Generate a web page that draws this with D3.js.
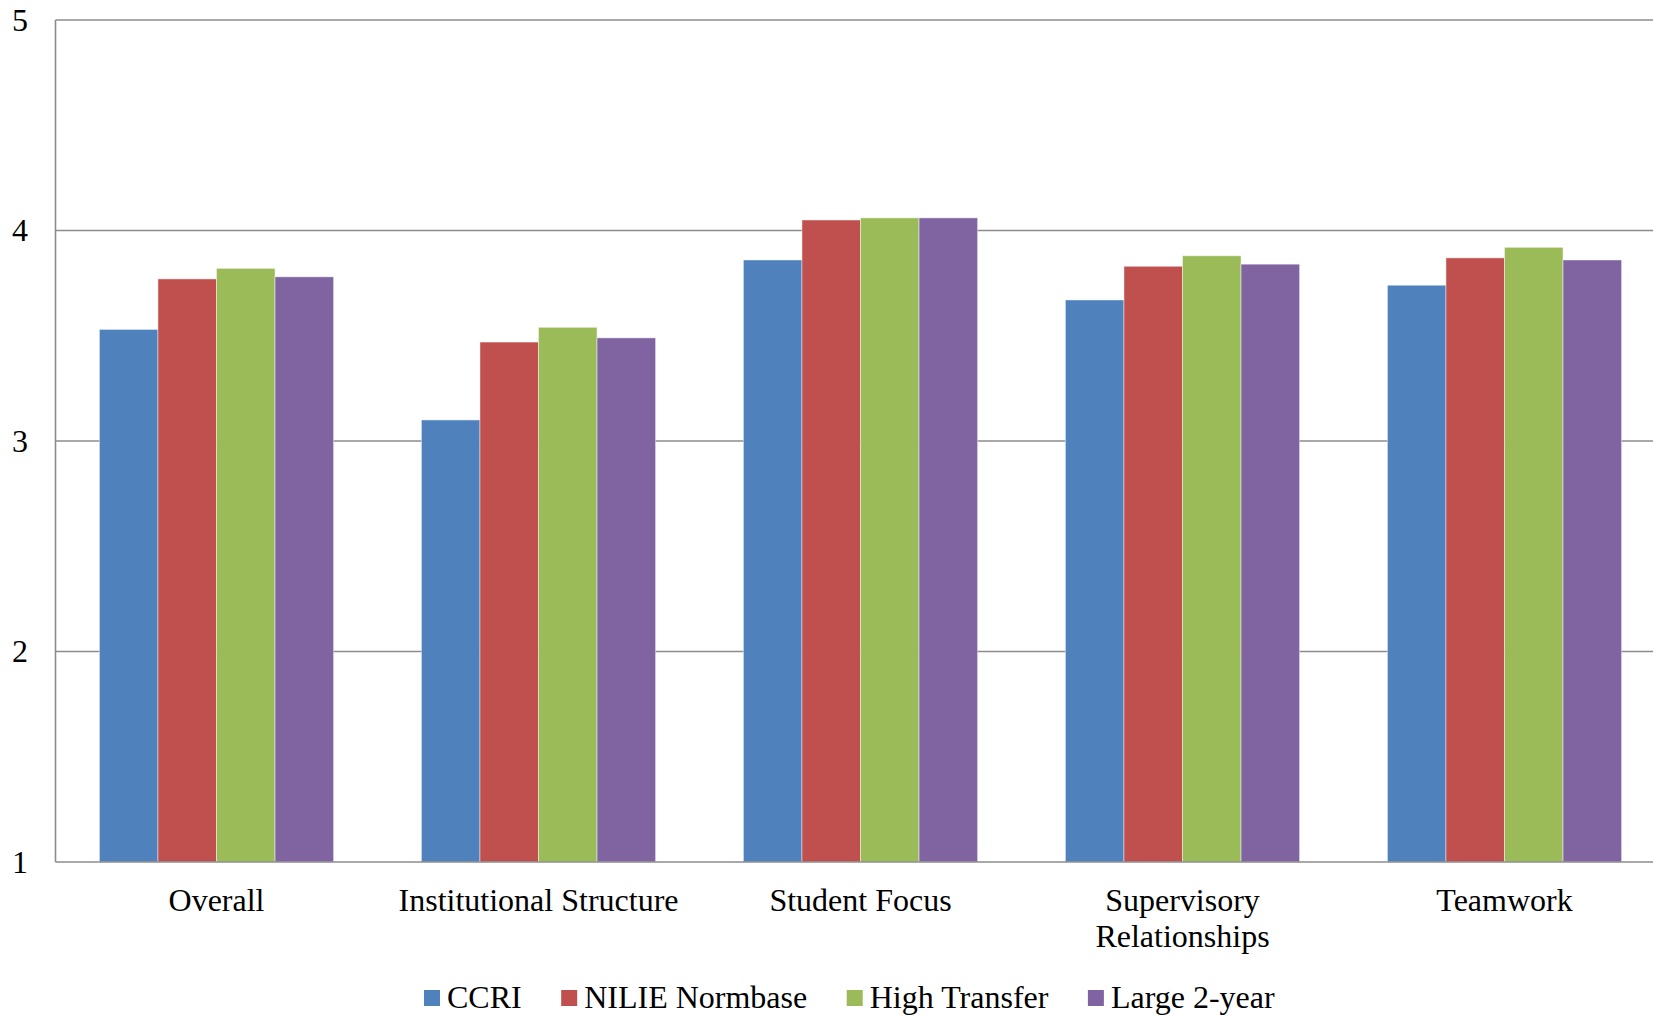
<!DOCTYPE html>
<html>
<head>
<meta charset="utf-8">
<script src="https://cdn.jsdelivr.net/npm/d3@7/dist/d3.min.js"></script>
<style>
  html, body { margin: 0; padding: 0; background: #fff; overflow: hidden; }
  text { font-family: "Liberation Serif", "Times New Roman", serif; fill: #000; }
</style>
</head>
<body>
<svg id="chart" width="1653" height="1016"></svg>
<script>
const categories = [["Overall"], ["Institutional Structure"], ["Student Focus"], ["Supervisory", "Relationships"], ["Teamwork"]];
const seriesNames = ["CCRI", "NILIE Normbase", "High Transfer", "Large 2-year"];
const ccri = [3.53, 3.10, 3.86, 3.67, 3.74];
const nilie = [3.77, 3.47, 4.05, 3.83, 3.87];
const highTransfer = [3.82, 3.54, 4.06, 3.88, 3.92];
const large2yr = [3.78, 3.49, 4.06, 3.84, 3.86];
const yTicks = [1, 2, 3, 4, 5];
const colors = ["#4F81BD", "#C0504D", "#9BBB59", "#8064A2"];

(function () {
const seriesValues = [ccri, nilie, highTransfer, large2yr];
const catKeys = categories.map(c => c.join(" "));

const svg = d3.select("#chart");
const pLeft = 55.5, pRight = 1665.5, pTop = 20, pBottom = 862;

const x0 = d3.scaleBand().domain(catKeys).range([pLeft, pRight]).paddingInner(0).paddingOuter(0);
const x1 = d3.scaleBand().domain(seriesNames).range([0, x0.bandwidth()]).paddingInner(0).paddingOuter(0.75);
const y = d3.scaleLinear().domain([1, 5]).range([pBottom, pTop]);

// gridlines
svg.append("g").selectAll("line").data(yTicks.filter(t => t > 1)).join("line")
  .attr("x1", pLeft).attr("x2", pRight)
  .attr("y1", d => y(d)).attr("y2", d => y(d))
  .attr("stroke", "#8c8c8c").attr("stroke-width", 1.6);

// bars
const groups = svg.append("g").selectAll("g").data(catKeys).join("g")
  .attr("transform", d => `translate(${x0(d)},0)`);
groups.selectAll("rect").data((d, i) => seriesNames.map((s, j) => ({ s, j, v: seriesValues[j][i] }))).join("rect")
  .attr("x", d => x1(d.s))
  .attr("width", x1.bandwidth())
  .attr("y", d => y(d.v))
  .attr("height", d => y(1) - y(d.v))
  .attr("fill", d => colors[d.j])
  .attr("stroke", "#ffffff").attr("stroke-opacity", 0.45).attr("stroke-width", 1);

// axes lines
svg.append("line").attr("x1", pLeft).attr("x2", pLeft).attr("y1", pTop).attr("y2", pBottom)
  .attr("stroke", "#8c8c8c").attr("stroke-width", 1.6);
svg.append("line").attr("x1", pLeft).attr("x2", pRight).attr("y1", pBottom).attr("y2", pBottom)
  .attr("stroke", "#8c8c8c").attr("stroke-width", 1.6);

// y tick labels
svg.append("g").selectAll("text").data(yTicks).join("text")
  .attr("x", 28).attr("y", d => y(d)).attr("dy", "0.34em")
  .attr("text-anchor", "end").attr("font-size", 32)
  .text(d => d);

// category labels
const catG = svg.append("g").selectAll("text").data(categories).join("text")
  .attr("text-anchor", "middle").attr("font-size", 32)
  .attr("transform", (d, i) => `translate(${x0(catKeys[i]) + x0.bandwidth() / 2},911)`);
catG.selectAll("tspan").data(d => d).join("tspan")
  .attr("x", 0).attr("y", (d, i) => i * 36).text(d => d);

// legend
const legend = svg.append("g");
let lx = 424;
seriesNames.forEach((s, i) => {
  legend.append("rect").attr("x", lx).attr("y", 990).attr("width", 16).attr("height", 16).attr("fill", colors[i]);
  const t = legend.append("text").attr("x", lx + 23).attr("y", 1008).attr("font-size", 32).text(s);
  const w = t.node().getComputedTextLength();
  lx = lx + 23 + w + 39.5;
});
})();
</script>
</body>
</html>
